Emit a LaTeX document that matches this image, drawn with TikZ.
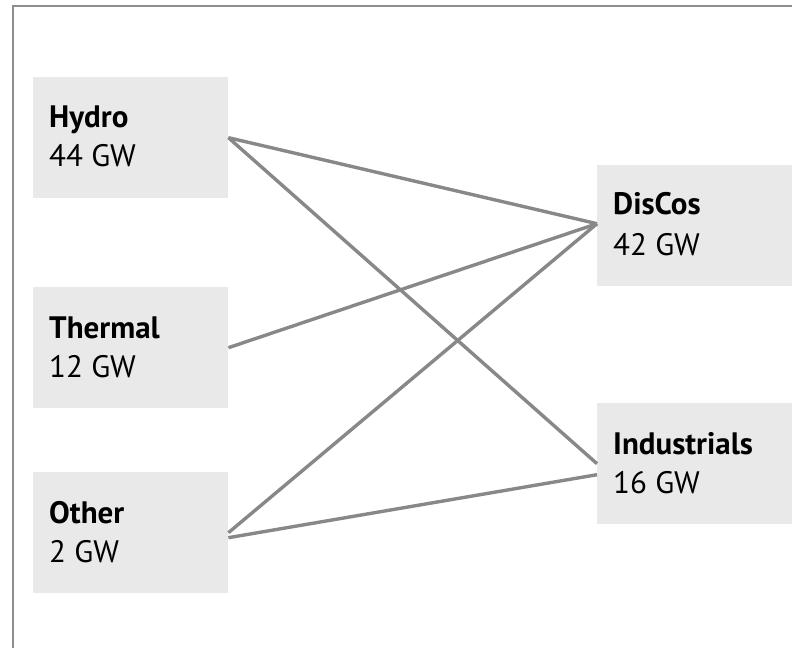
\documentclass[tikz,border=0pt]{standalone}
\usepackage{fontspec}
\setmainfont{PT Sans}
\usetikzlibrary{calc}
\definecolor{boxfill}{HTML}{E9E9E9}
\definecolor{linkgray}{HTML}{888888}
\definecolor{framegray}{HTML}{8E8E8E}
\tikzset{
  box/.style={fill=boxfill, draw=none, anchor=north west, minimum width=195bp, minimum height=121bp, inner sep=0pt},
  rbox/.style={box, minimum width=220bp},
  title/.style={anchor=base west, inner sep=0pt, font=\fontsize{31bp}{37bp}\selectfont\bfseries},
  value/.style={anchor=base west, inner sep=0pt, font=\fontsize{31bp}{37bp}\selectfont},
  link/.style={draw=linkgray, line width=3.4bp},
  frame/.style={draw=framegray, line width=2bp}
}
\begin{document}
\begin{tikzpicture}[x=1bp,y=-1bp]
\useasboundingbox (0,0) rectangle (792,648);
\clip (0,0) rectangle (792,648);
\draw[frame] (12.5,6) rectangle (820,680);
% left boxes
\node[box] (hydro) at (33,77) {};
\node[box] (thermal) at (33,287) {};
\node[box] (other) at (33,472) {};
% right boxes
\node[rbox] (discos) at (597,165) {};
\node[rbox] (ind) at (597,403) {};
% texts
\node[title] (hydroname) at ($(hydro.north west)+(16,51)$) {Hydro};
\node[value] (hydroval) at ($(hydro.north west)+(16,90)$) {44 GW};
\node[title] (thermalname) at ($(thermal.north west)+(16,51)$) {Thermal};
\node[value] (thermalval) at ($(thermal.north west)+(16,90)$) {12 GW};
\node[title] (othername) at ($(other.north west)+(16,51)$) {Other};
\node[value] (otherval) at ($(other.north west)+(16,90)$) {2 GW};
\node[title] (discosname) at ($(discos.north west)+(16,50)$) {DisCos};
\node[value] (discosval) at ($(discos.north west)+(16,90)$) {42 GW};
\node[title] (indname) at ($(ind.north west)+(16,51)$) {Industrials};
\node[value] (indval) at ($(ind.north west)+(16,90)$) {16 GW};
% links
\coordinate (dIn) at ($(discos.west)+(0,-2)$);
\coordinate (iInLow) at ($(ind.west)+(0,11)$);
\coordinate (oOutLow) at ($(other.east)+(0,5)$);
\draw[link] (hydro.east) -- (dIn);
\draw[link] (hydro.east) -- (ind.west);
\draw[link] (thermal.east) -- (dIn);
\draw[link] (other.east) -- (dIn);
\draw[link] (oOutLow) -- (iInLow);
\end{tikzpicture}
\end{document}
